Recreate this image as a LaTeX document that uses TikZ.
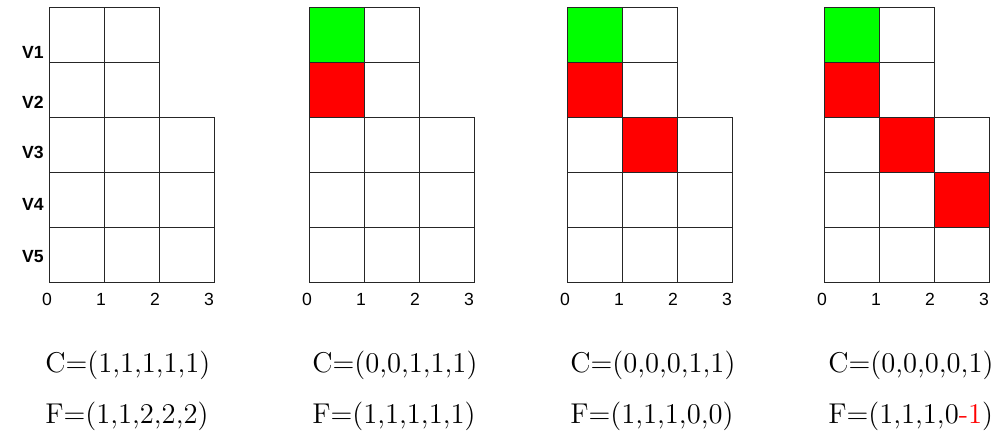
\documentclass[tikz,border=0pt]{standalone}
\usepackage{fontspec}
\usepackage{xcolor}
\newfontfamily\arialfont{Liberation Sans}
\usetikzlibrary{positioning}

\definecolor{cellgreen}{RGB}{0,255,0}
\definecolor{cellred}{RGB}{255,0,0}

\tikzset{
  gridline/.style={draw=black!85, line width=0.5pt},
  vlabel/.style={font=\arialfont\bfseries\fontsize{8.8}{9}\selectfont, inner sep=0pt},
  axlabel/.style={font=\arialfont\fontsize{8.8}{9}\selectfont, inner sep=0pt},
  vectext/.style={font=\fontsize{14.3}{16}\selectfont, anchor=base west, inner sep=0pt}
}

\begin{document}
\begin{tikzpicture}[x=0.5pt, y=-0.5pt]
\useasboundingbox (0,0) rectangle (994,437);

% coloured cells (panel left x / column / row / colour)
\foreach \gx/\c/\r/\col in {309/0/0/cellgreen, 309/0/1/cellred,
    567/0/0/cellgreen, 567/0/1/cellred, 567/1/2/cellred,
    824/0/0/cellgreen, 824/0/1/cellred, 824/1/2/cellred, 824/2/3/cellred}
  \fill[\col] (\gx+55*\c, 8+55*\r) rectangle ++(55,55);

% four grids
\foreach \p/\gx in {1/49, 2/309, 3/567, 4/824} {
  \foreach \r in {0,1}
    \foreach \c in {0,1}
      \draw[gridline] (\gx+55*\c, 8+55*\r) rectangle ++(55,55);
  \foreach \r in {2,3,4}
    \foreach \c in {0,1,2}
      \draw[gridline] (\gx+55*\c, 8+55*\r) rectangle ++(55,55);
  \foreach \c in {0,1,2,3}
    \node[axlabel] (ax\p-\c) at (\gx-2+54*\c, 299) {\c};
}

% row names
\foreach \r/\y in {1/52, 2/102, 3/152, 4/204, 5/257}
  \node[vlabel] (v\r) at (33,\y) {V\r};

% vectors under the grids
\node[vectext] (c1) at (45,373) {C=(1,1,1,1,1)};
\node[vectext] (f1) at (45,423) {F=(1,1,2,2,2)};
\node[vectext] (c2) at (312,373) {C=(0,0,1,1,1)};
\node[vectext] (f2) at (312,423) {F=(1,1,1,1,1)};
\node[vectext] (c3) at (570,373) {C=(0,0,0,1,1)};
\node[vectext] (f3) at (570,423) {F=(1,1,1,0,0)};
\node[vectext] (c4) at (828,373) {C=(0,0,0,0,1)};
\node[vectext] (f4) at (828,423) {F=(1,1,1,0\textcolor{cellred}{-1})};
\end{tikzpicture}
\end{document}
